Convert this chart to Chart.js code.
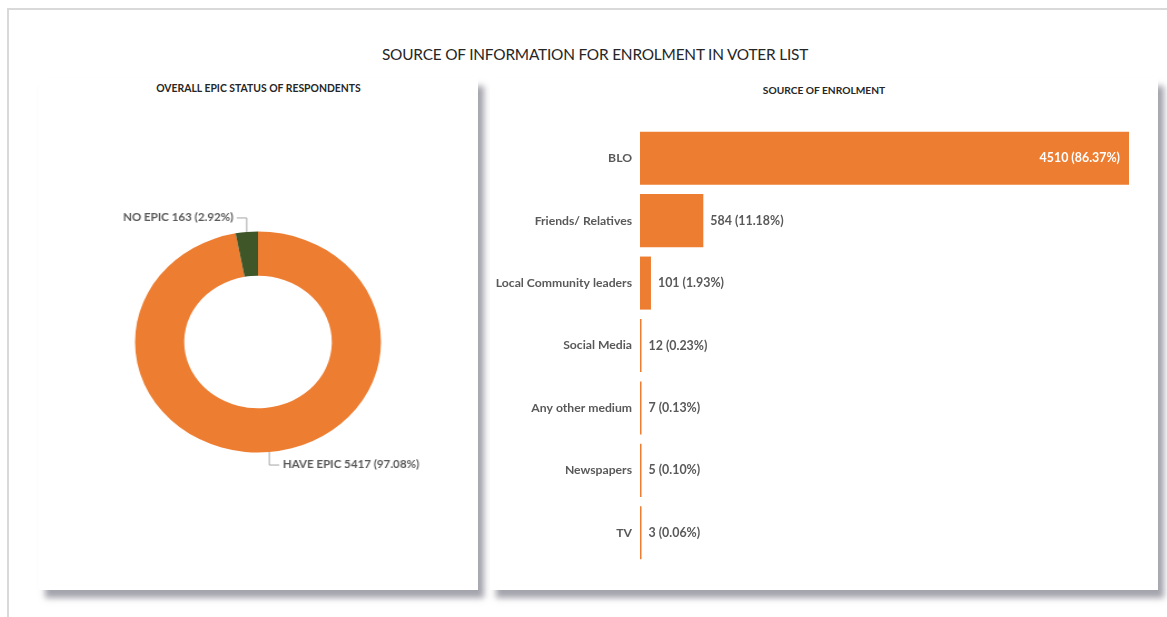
<!DOCTYPE html>
<html>
<head>
<meta charset="utf-8">
<script src="https://cdn.jsdelivr.net/npm/chart.js@4.4.1/dist/chart.umd.min.js"></script>
<style>
  html, body { margin: 0; padding: 0; background: #fff; }
  body { width: 1167px; height: 617px; position: relative; overflow: hidden; font-family: Lato, "Open Sans", sans-serif; }
  .frame { position: absolute; left: 7px; top: 8px; right: 0; bottom: 0; border-top: 2px solid #d9d9d9; border-left: 2px solid #d9d9d9; }
  .main-title { position: absolute; left: 0; width: 1190px; top: 45px; text-align: center; font-size: 15.4px; font-weight: 400; color: #262626; letter-spacing: -0.2px; }
  .panel { position: absolute; top: 78px; height: 512px; background: #fff; box-shadow: 6px 8px 6px rgba(90, 90, 105, 0.55); }
  .panel-title { position: absolute; left: 0; right: 0; top: 4px; text-align: center; font-size: 10.4px; font-weight: 700; color: #262626; }
  #left { left: 39px; width: 439px; }
  #right { left: 490px; width: 668px; }
  #donutBox { position: absolute; left: 58px; top: 192px; width: 400px; height: 300px; transform: scaleX(1.113); transform-origin: 200px 150px; }
  #barBox { position: absolute; left: 490px; top: 78px; width: 668px; height: 512px; }
</style>
</head>
<body>
<div class="frame"></div>
<div class="main-title">SOURCE OF INFORMATION FOR ENROLMENT IN VOTER LIST</div>
<div class="panel" id="left"><div class="panel-title">OVERALL EPIC STATUS OF RESPONDENTS</div></div>
<div class="panel" id="right"><div class="panel-title" style="top:6px;font-size:10.2px">SOURCE OF ENROLMENT</div></div>
<div id="donutBox"><canvas id="donut" width="400" height="300"></canvas></div>
<div id="barBox"><canvas id="bars" width="668" height="512"></canvas></div>
<script>
// EPIC card status of respondents
const epicLabels = ['HAVE EPIC', 'NO EPIC'];
const epicCounts = [5417, 163];
const epicColors = ['#ED7D31', '#3E5628'];

// Where respondents learned about enrolment
const sourceLabels = ['BLO', 'Friends/ Relatives', 'Local Community leaders', 'Social Media', 'Any other medium', 'Newspapers', 'TV'];
const sourceCounts = [4510, 584, 101, 12, 7, 5, 3];
const sourceMax = 4510;

const fontStack = 'Lato, "Open Sans", sans-serif';
const donutFont = '700 10.4px ' + fontStack;
const valueFont = '700 12.4px ' + fontStack;
const labelGray = '#595959';

function pct(v, arr) {
  const total = arr.reduce((a, b) => a + b, 0);
  return (v / total * 100).toFixed(2) + '%';
}

// Outside labels with elbow leader lines for the doughnut
const donutLabels = {
  id: 'donutLabels',
  afterDatasetsDraw(chart) {
    const ctx = chart.ctx;
    const meta = chart.getDatasetMeta(0);
    ctx.save();
    ctx.font = donutFont;
    ctx.fillStyle = labelGray;
    ctx.strokeStyle = '#a6a6a6';
    ctx.lineWidth = 1;
    ctx.textBaseline = 'middle';
    meta.data.forEach((arc, i) => {
      const p = arc.getProps(['x', 'y', 'startAngle', 'endAngle', 'outerRadius'], true);
      const mid = (p.startAngle + p.endAngle) / 2;
      const ex = p.x + Math.cos(mid) * p.outerRadius;
      const ey = p.y + Math.sin(mid) * p.outerRadius;
      const up = ey < p.y;
      const side = ex < p.x ? -1 : 1;
      const ky = up ? ey - 14 : ey + 13;
      const kx = ex + side * 9;
      ctx.beginPath();
      ctx.moveTo(ex, ey);
      ctx.lineTo(ex, ky);
      ctx.lineTo(kx, ky);
      ctx.stroke();
      const text = epicLabels[i] + ' ' + epicCounts[i] + ' (' + pct(epicCounts[i], epicCounts) + ')';
      ctx.textAlign = side < 0 ? 'right' : 'left';
      ctx.fillText(text, kx + side * 3, ky);
    });
    ctx.restore();
  }
};

new Chart(document.getElementById('donut'), {
  type: 'doughnut',
  data: {
    labels: epicLabels,
    datasets: [{ data: epicCounts, backgroundColor: epicColors, borderWidth: 0 }]
  },
  options: {
    responsive: false,
    animation: false,
    cutout: '60%',
    layout: { padding: { top: 39.5, bottom: 39.5, left: 0, right: 0 } },
    plugins: { legend: { display: false }, tooltip: { enabled: false } }
  },
  plugins: [donutLabels]
});

// Value and share labels at the end of each bar
const barLabels = {
  id: 'barLabels',
  afterDatasetsDraw(chart) {
    const ctx = chart.ctx;
    const meta = chart.getDatasetMeta(0);
    ctx.save();
    ctx.font = valueFont;
    ctx.textBaseline = 'middle';
    meta.data.forEach((bar, i) => {
      const p = bar.getProps(['x', 'y', 'base'], true);
      const text = sourceCounts[i] + ' (' + pct(sourceCounts[i], sourceCounts) + ')';
      const w = ctx.measureText(text).width;
      if (p.x - p.base > w + 24) {
        ctx.fillStyle = '#ffffff';
        ctx.textAlign = 'right';
        ctx.fillText(text, p.x - 9, p.y);
      } else {
        ctx.fillStyle = labelGray;
        ctx.textAlign = 'left';
        ctx.fillText(text, p.x + 7, p.y);
      }
    });
    ctx.restore();
  }
};

new Chart(document.getElementById('bars'), {
  type: 'bar',
  data: {
    labels: sourceLabels,
    datasets: [{
      data: sourceCounts,
      backgroundColor: '#ED7D31',
      borderWidth: 0,
      categoryPercentage: 1,
      barPercentage: 0.85,
      minBarLength: 1.5
    }]
  },
  options: {
    responsive: false,
    animation: false,
    indexAxis: 'y',
    layout: { padding: { top: 49, right: 29, bottom: 26, left: 0 } },
    scales: {
      x: { display: false, min: 0, max: sourceMax },
      y: {
        grid: { display: false, drawTicks: false },
        border: { display: false },
        ticks: { font: { family: fontStack, size: 12.2, weight: '700' }, color: labelGray, padding: 8 },
        afterFit(scale) { scale.width = 150; }
      }
    },
    plugins: { legend: { display: false }, tooltip: { enabled: false } }
  },
  plugins: [barLabels]
});
</script>
</body>
</html>
